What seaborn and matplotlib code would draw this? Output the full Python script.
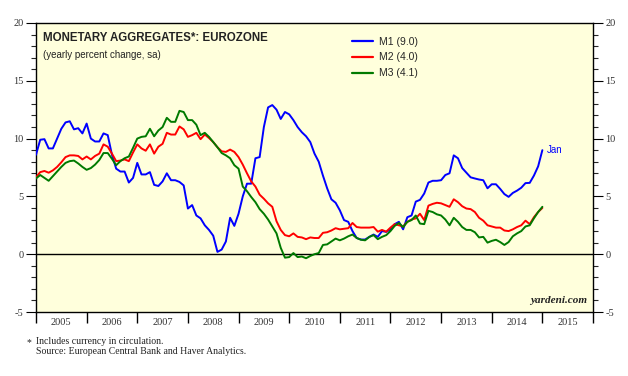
import numpy as np
import pandas as pd
import matplotlib
matplotlib.use("Agg")
import matplotlib.pyplot as plt
import seaborn as sns

# Monthly data, Jan 2005 .. Jan 2015 (yearly percent change, sa)
m1 = [8.6, 9.9, 9.95, 9.15, 9.15, 10.0, 10.85, 11.4, 11.5, 10.8, 10.9, 10.45,
      11.3, 10.0, 9.75, 9.75, 10.45, 10.3, 8.6, 7.4, 7.15, 7.15, 6.2, 6.6,
      7.9, 6.9, 6.9, 7.1, 6.0, 5.9, 6.3, 7.0, 6.4, 6.4, 6.25, 5.95,
      3.95, 4.25, 3.35, 3.1, 2.5, 2.1, 1.6, 0.2, 0.4, 1.1, 3.15, 2.45,
      3.5, 5.0, 6.1, 6.1, 8.3, 8.4, 11.0, 12.7, 12.9, 12.5, 11.7, 12.3,
      12.1, 11.6, 11.0, 10.55, 10.2, 9.7, 8.7, 8.0, 6.8, 5.7, 4.75, 4.45,
      3.8, 2.95, 2.8, 2.0, 1.4, 1.27, 1.27, 1.5, 1.7, 1.5, 2.0, 1.93,
      2.15, 2.6, 2.8, 2.15, 3.2, 3.35, 4.55, 4.7, 5.25, 6.2, 6.35, 6.35,
      6.4, 6.85, 7.0, 8.55, 8.3, 7.45, 7.05, 6.65, 6.55, 6.46, 6.4, 5.7,
      6.05, 6.05, 5.65, 5.2, 4.96, 5.3, 5.5, 5.75, 6.15, 6.17, 6.8, 7.6,
      9.0]
m2 = [6.65, 7.1, 7.2, 7.05, 7.25, 7.55, 7.95, 8.4, 8.55, 8.55, 8.5, 8.2,
      8.45, 8.2, 8.5, 8.7, 9.5, 9.3, 8.7, 8.05, 8.1, 8.2, 8.05, 8.8,
      9.5, 9.15, 8.95, 9.5, 8.7, 9.3, 9.55, 10.5, 10.35, 10.35, 11.05, 10.8,
      10.15, 10.3, 10.5, 9.95, 10.35, 10.05, 9.7, 9.25, 8.9, 8.85, 9.05, 8.85,
      8.4, 7.75, 7.0, 6.3, 5.85, 5.15, 4.8, 4.4, 4.1, 2.85, 2.1, 1.65,
      1.55, 1.8, 1.5, 1.45, 1.3, 1.45, 1.4, 1.4, 1.85, 1.9, 2.05, 2.25,
      2.15, 2.2, 2.25, 2.7, 2.35, 2.3, 2.3, 2.3, 2.35, 1.95, 2.1, 1.95,
      2.3, 2.6, 2.5, 2.4, 2.8, 3.0, 3.1, 3.5, 2.95, 4.2, 4.35, 4.45,
      4.4, 4.25, 4.1, 4.75, 4.5, 4.15, 3.95, 3.9, 3.65, 3.15, 2.9, 2.5,
      2.4, 2.3, 2.3, 2.05, 2.0, 2.15, 2.35, 2.5, 2.9, 2.6, 3.2, 3.65,
      4.0]
m3 = [6.55, 6.85, 6.6, 6.35, 6.75, 7.15, 7.55, 7.9, 8.05, 8.1, 7.85, 7.55,
      7.3, 7.45, 7.75, 8.15, 8.75, 8.75, 8.25, 7.7, 8.05, 8.3, 8.45, 9.2,
      10.0, 10.15, 10.2, 10.85, 10.2, 10.7, 11.0, 11.8, 11.45, 11.45, 12.4, 12.3,
      11.6, 11.6, 11.2, 10.3, 10.5, 10.15, 9.7, 9.25, 8.75, 8.55, 8.3, 7.7,
      7.4, 5.85, 5.45, 4.95, 4.5, 3.9, 3.5, 3.0, 2.4, 1.8, 0.55, -0.3,
      -0.25, 0.1, -0.25, -0.2, -0.35, -0.15, 0.0, 0.1, 0.8, 0.85, 1.1, 1.35,
      1.2, 1.35, 1.55, 1.7, 1.4, 1.25, 1.2, 1.5, 1.65, 1.3, 1.5, 1.65,
      2.0, 2.45, 2.7, 2.35, 2.8, 2.95, 3.35, 2.65, 2.6, 3.75, 3.65, 3.45,
      3.35, 3.0, 2.5, 3.15, 2.8, 2.35, 2.1, 2.1, 1.9, 1.45, 1.5, 1.0,
      1.15, 1.25, 1.05, 0.8, 1.05, 1.55, 1.8, 2.0, 2.4, 2.5, 3.1, 3.65,
      4.1]

series_names = ["M1 (9.0)", "M2 (4.0)", "M3 (4.1)"]
series_colors = ["#0000FF", "#FF0000", "#007A00"]
years = list(range(2005, 2016))
start_year = 2005

n = len(m1)
t = [start_year + i / 12.0 for i in range(n)]
df = pd.DataFrame({
    "t": t * 3,
    "value": m1 + m2 + m3,
    "series": [series_names[0]] * n + [series_names[1]] * n + [series_names[2]] * n,
})

sns.set_theme(style="white")
plt.rcParams["font.family"] = ["Liberation Sans", "DejaVu Sans"]

fig = plt.figure(figsize=(6.28, 3.76), dpi=100)
ax = fig.add_axes([36 / 628, 64 / 376, (593 - 36) / 628, (312 - 23) / 376])
ax.set_facecolor("#FFFFDC")

ax.axhline(0, color="black", lw=1.0, zorder=1)

sns.lineplot(data=df, x="t", y="value", hue="series",
             palette=dict(zip(series_names, series_colors)),
             linewidth=1.4, ax=ax, legend=True, zorder=3)

ax.set_xlim(2005, 2016)
ax.set_ylim(-5, 20)
ax.set_xlabel("")
ax.set_ylabel("")

for s in ax.spines.values():
    s.set_color("black")
    s.set_linewidth(1.0)

serif = ["Liberation Serif", "DejaVu Serif"]
ax.set_yticks([-5, 0, 5, 10, 15, 20])
ax.set_yticks(np.arange(-5, 21, 1), minor=True)
ax.set_yticklabels(["-5", "0", "5", "10", "15", "20"], fontfamily=serif, fontsize=7.5)
ax.tick_params(axis="y", which="major", direction="out", length=7, width=0.8,
               left=True, right=True, labelleft=True, labelright=True, pad=2,
               colors="black", labelcolor="#333333")
ax.tick_params(axis="y", which="minor", direction="out", length=3.5, width=0.8,
               left=True, right=True)

ax.set_xticks(years + [2016])
ax.set_xticklabels([])
ax.set_xticks([y + 0.5 for y in years], minor=True)
ax.set_xticklabels([str(y) for y in years], minor=True, fontfamily=serif, fontsize=7.5)
ax.tick_params(axis="x", which="major", direction="out", length=8, width=1.0,
               bottom=True, colors="black")
ax.tick_params(axis="x", which="minor", length=0, pad=4, labelcolor="#333333")
ax.grid(False)

leg = ax.legend(loc="upper left", bbox_to_anchor=(0.55, 0.985), frameon=False,
                fontsize=7.5, handlelength=2.0, handletextpad=0.6,
                labelspacing=0.55, title=None)
for line in leg.get_lines():
    line.set_linewidth(1.6)

ax.text(0.013, 0.968, "MONETARY AGGREGATES*: EUROZONE", transform=ax.transAxes,
        fontsize=8.3, fontweight="bold", color="#222222", va="top", ha="left")
ax.text(0.013, 0.905, "(yearly percent change, sa)", transform=ax.transAxes,
        fontsize=7, color="#222222", va="top", ha="left")

ax.text(t[-1] + 0.09, m1[-1], "Jan", color="#0000FF", fontsize=7, va="center", ha="left")

ax.text(0.99, 0.025, "yardeni.com", transform=ax.transAxes, fontfamily=serif,
        fontstyle="italic", fontweight="bold", fontsize=8, color="#222222",
        ha="right", va="bottom")

fig.text(27 / 628, 1 - 343 / 376, "*", fontfamily=serif, fontsize=7, color="#222222", va="center")
fig.text(36 / 628, 1 - 341 / 376, "Includes currency in circulation.", fontfamily=serif,
         fontsize=7, color="#222222", va="center")
fig.text(36 / 628, 1 - 351 / 376, "Source: European Central Bank and Haver Analytics.",
         fontfamily=serif, fontsize=7, color="#222222", va="center")

fig.savefig("out.png", dpi=100, facecolor="white")
